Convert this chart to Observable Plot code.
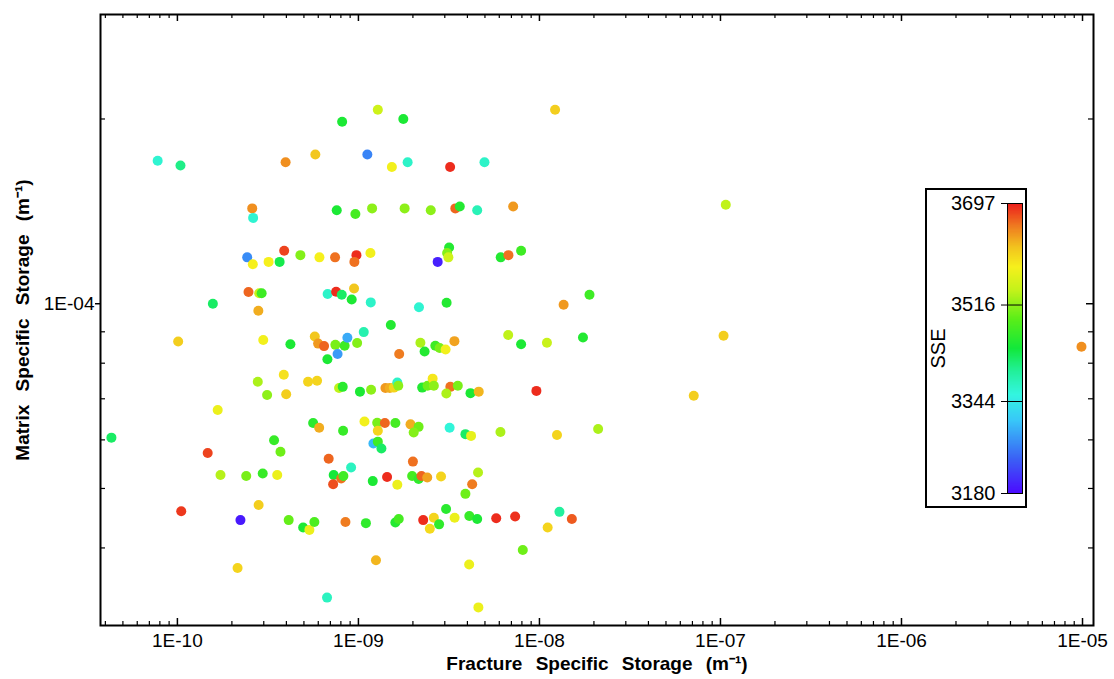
<!DOCTYPE html>
<html><head><meta charset="utf-8">
<script src="https://cdn.jsdelivr.net/npm/d3@7"></script>
<script src="https://cdn.jsdelivr.net/npm/@observablehq/plot@0.6"></script>
<style>
html,body{margin:0;padding:0;background:#fff;}
#wrap{position:relative;width:1114px;height:679px;}
#legend{position:absolute;left:925px;top:188px;width:102px;height:320px;}
svg{display:block;}
</style></head><body><div id="wrap"></div>
<script>
// Fracture specific storage (x), matrix specific storage (y), SSE (colour)
const fss = [
8.13e-10, 7.78e-11, 1.04e-10, 3.96e-10, 5.78e-10, 2.59e-10, 2.62e-10, 7.59e-10, 9.62e-10, 2.43e-10,
2.61e-10, 3.19e-10, 3.67e-10, 3.89e-10, 4.78e-10, 6.09e-10, 7.43e-10, 9.75e-10, 9.50e-10, 2.47e-10,
2.83e-10, 2.92e-10, 1.57e-10, 2.80e-10, 6.76e-10, 7.53e-10, 8.09e-10, 9.18e-10, 9.46e-10, 1.28e-9,
1.77e-9, 1.22e-8, 1.12e-9, 1.53e-9, 1.87e-9, 3.21e-9, 4.97e-9, 1.19e-9, 1.80e-9, 2.51e-9,
3.43e-9, 3.63e-9, 4.53e-9, 7.16e-9, 1.165e-9, 2.74e-9, 3.17e-9, 3.09e-9, 3.14e-9, 6.11e-9,
6.74e-9, 7.92e-9, 1.17e-9, 2.16e-9, 3.07e-9, 1.51e-9, 1.07e-9, 1.36e-8, 1.89e-8, 1.07e-7,
1.04e-7, 9.87e-6, 7.12e-8, 1.01e-10, 2.98e-10, 4.21e-10, 5.74e-10, 5.99e-10, 6.46e-10, 7.46e-10,
8.39e-10, 8.69e-10, 9.84e-10, 7.67e-10, 6.74e-10, 1.68e-9, 2.20e-9, 2.32e-9, 2.66e-9, 2.81e-9,
3.03e-9, 3.39e-9, 6.72e-9, 7.92e-9, 1.10e-8, 1.74e-8, 3.87e-10, 2.78e-10, 3.13e-10, 3.99e-10,
5.27e-10, 5.91e-10, 7.82e-10, 8.19e-10, 1.02e-9, 1.175e-9, 1.41e-9, 1.49e-9, 1.57e-9, 1.64e-9,
1.66e-9, 2.25e-9, 2.41e-9, 2.57e-9, 2.61e-9, 3.22e-9, 3.54e-9, 3.06e-9, 4.16e-9, 4.62e-9,
9.62e-9, 1.67e-10, 4.32e-11, 5.62e-10, 6.07e-10, 8.23e-10, 1.08e-9, 1.27e-9, 1.40e-9, 1.28e-9,
1.60e-9, 1.94e-9, 2.15e-9, 2.02e-9, 3.19e-9, 3.90e-9, 4.19e-9, 6.09e-9, 1.25e-8, 2.11e-8,
1.47e-10, 3.42e-10, 3.71e-10, 1.21e-9, 1.28e-9, 1.34e-9, 6.85e-10, 9.11e-10, 7.30e-10, 8.03e-10,
8.26e-10, 7.25e-10, 1.73e-10, 2.40e-10, 2.96e-10, 3.56e-10, 2.00e-9, 1.20e-9, 1.44e-9, 1.64e-9,
1.98e-9, 2.15e-9, 2.23e-9, 2.40e-9, 2.86e-9, 4.58e-9, 4.25e-9, 3.90e-9, 3.05e-9, 1.05e-10,
2.23e-10, 2.81e-10, 4.12e-10, 4.95e-10, 5.36e-10, 5.71e-10, 8.48e-10, 1.10e-9, 1.60e-9, 1.67e-9,
2.28e-9, 2.61e-9, 2.48e-9, 2.79e-9, 3.40e-9, 4.10e-9, 4.53e-9, 5.77e-9, 7.34e-9, 1.29e-8,
1.51e-8, 1.11e-8, 8.09e-9, 1.25e-9, 4.09e-9, 2.15e-10, 6.71e-10, 4.60e-9
];
const mss = [
1.98e-4, 1.71e-4, 1.68e-4, 1.70e-4, 1.75e-4, 1.43e-4, 1.38e-4, 1.42e-4, 1.40e-4, 1.19e-4,
1.16e-4, 1.17e-4, 1.17e-4, 1.22e-4, 1.20e-4, 1.19e-4, 1.19e-4, 1.20e-4, 1.17e-4, 1.045e-4,
1.04e-4, 1.04e-4, 1.00e-4, 9.74e-5, 1.037e-4, 1.046e-4, 1.034e-4, 1.016e-4, 1.059e-4, 2.07e-4,
2.00e-4, 2.07e-4, 1.75e-4, 1.67e-4, 1.70e-4, 1.67e-4, 1.70e-4, 1.43e-4, 1.43e-4, 1.42e-4,
1.43e-4, 1.44e-4, 1.42e-4, 1.44e-4, 1.21e-4, 1.17e-4, 1.235e-4, 1.21e-4, 1.19e-4, 1.19e-4,
1.20e-4, 1.22e-4, 1.005e-4, 9.87e-5, 1.004e-4, 9.23e-5, 8.99e-5, 9.96e-5, 1.034e-4, 1.45e-4,
8.87e-5, 8.51e-5, 7.08e-5, 8.68e-5, 8.73e-5, 8.59e-5, 8.84e-5, 8.61e-5, 8.53e-5, 8.57e-5,
8.54e-5, 8.80e-5, 8.63e-5, 8.28e-5, 8.12e-5, 8.28e-5, 8.64e-5, 8.36e-5, 8.54e-5, 8.47e-5,
8.42e-5, 8.69e-5, 8.89e-5, 8.59e-5, 8.64e-5, 8.81e-5, 7.66e-5, 7.46e-5, 7.10e-5, 7.12e-5,
7.46e-5, 7.49e-5, 7.29e-5, 7.32e-5, 7.19e-5, 7.24e-5, 7.29e-5, 7.29e-5, 7.30e-5, 7.44e-5,
7.35e-5, 7.30e-5, 7.35e-5, 7.55e-5, 7.35e-5, 7.32e-5, 7.35e-5, 7.14e-5, 7.15e-5, 7.19e-5,
7.21e-5, 6.71e-5, 6.05e-5, 6.39e-5, 6.28e-5, 6.21e-5, 6.43e-5, 6.40e-5, 6.39e-5, 6.21e-5,
6.39e-5, 6.36e-5, 6.30e-5, 6.17e-5, 6.28e-5, 6.13e-5, 6.09e-5, 6.18e-5, 6.11e-5, 6.25e-5,
5.71e-5, 5.99e-5, 5.74e-5, 5.92e-5, 5.96e-5, 5.81e-5, 5.59e-5, 5.41e-5, 5.26e-5, 5.19e-5,
5.24e-5, 5.08e-5, 5.26e-5, 5.24e-5, 5.29e-5, 5.26e-5, 5.53e-5, 5.14e-5, 5.22e-5, 5.07e-5,
5.24e-5, 5.18e-5, 5.24e-5, 5.21e-5, 5.23e-5, 5.31e-5, 5.08e-5, 4.90e-5, 4.63e-5, 4.59e-5,
4.44e-5, 4.70e-5, 4.44e-5, 4.32e-5, 4.28e-5, 4.41e-5, 4.41e-5, 4.39e-5, 4.40e-5, 4.46e-5,
4.44e-5, 4.48e-5, 4.30e-5, 4.37e-5, 4.48e-5, 4.51e-5, 4.46e-5, 4.47e-5, 4.50e-5, 4.58e-5,
4.46e-5, 4.32e-5, 3.97e-5, 3.82e-5, 3.76e-5, 3.71e-5, 3.32e-5, 3.20e-5
];
const sse = [
3445, 3365, 3405, 3645, 3615, 3645, 3365, 3445, 3475, 3270,
3583, 3583, 3430, 3680, 3510, 3583, 3660, 3690, 3660, 3665,
3545, 3470, 3420, 3630, 3370, 3690, 3420, 3445, 3615, 3550,
3445, 3610, 3265, 3580, 3370, 3690, 3370, 3515, 3515, 3515,
3665, 3450, 3380, 3640, 3580, 3195, 3450, 3510, 3550, 3450,
3660, 3470, 3370, 3365, 3450, 3450, 3385, 3640, 3470, 3540,
3610, 3645, 3610, 3610, 3580, 3445, 3615, 3640, 3665, 3505,
3470, 3290, 3510, 3280, 3445, 3655, 3530, 3450, 3470, 3505,
3580, 3635, 3540, 3445, 3545, 3450, 3595, 3530, 3515, 3610,
3605, 3605, 3540, 3455, 3445, 3515, 3640, 3630, 3605, 3370,
3515, 3450, 3500, 3590, 3515, 3660, 3505, 3530, 3445, 3625,
3690, 3575, 3420, 3455, 3630, 3465, 3580, 3505, 3665, 3605,
3475, 3630, 3500, 3510, 3360, 3420, 3570, 3530, 3605, 3530,
3680, 3465, 3500, 3300, 3470, 3420, 3665, 3375, 3440, 3660,
3470, 3675, 3535, 3505, 3465, 3575, 3660, 3445, 3690, 3575,
3475, 3460, 3665, 3635, 3605, 3535, 3655, 3500, 3455, 3685,
3190, 3610, 3495, 3445, 3575, 3480, 3655, 3460, 3450, 3475,
3690, 3605, 3600, 3460, 3575, 3465, 3445, 3690, 3688, 3395,
3670, 3605, 3500, 3625, 3575, 3605, 3375, 3575
];

const xMajorTicks = [1e-10, 1e-9, 1e-8, 1e-7, 1e-6, 1e-5];
const yMajorTicks = [1e-4];
const minorMantissas = [2, 3, 4, 5, 6, 7, 8, 9];
const xMinorDecades = [1e-11, 1e-10, 1e-9, 1e-8, 1e-7, 1e-6];
const yMinorDecades = [1e-5, 1e-4];
const sseTicks = [3180, 3344, 3516, 3697];
const xTitle = "Fracture Specific Storage (m⁻¹)";
const yTitle = "Matrix Specific Storage (m⁻¹)";
const legendTitle = "SSE";

const data = fss.map((x, i) => ({fss: x, mss: mss[i], sse: sse[i]}));

const xDomain = [3.76e-11, 1.15e-5];
const yDomain = [2.99e-5, 2.96e-4];
const inside = (v, [a, b]) => v > a * 1.01 && v < b * 0.99;
const xMinor = xMinorDecades.flatMap(d => minorMantissas.map(m => m * d)).filter(v => inside(v, xDomain));
const yMinor = yMinorDecades.flatMap(d => minorMantissas.map(m => m * d)).filter(v => inside(v, yDomain));
const fmt = d => { const e = Math.round(Math.log10(d)); return "1E" + (e < 0 ? "-" : "+") + String(Math.abs(e)).padStart(2, "0"); };

const colorScale = {
  type: "linear",
  domain: [3180, 3242, 3309, 3356, 3397, 3438, 3490, 3542, 3583, 3619, 3656, 3697],
  range: ["#4b0bff", "#3a62f5", "#38c6f8", "#33f5e0", "#22f09a", "#12e83a", "#5aee18", "#c4f21a", "#f6f01c", "#f2c21e", "#ef7a20", "#ec1c1c"],
  clamp: true
};

const font = '"Liberation Sans", Arial, Helvetica, sans-serif';
const W = 1114, H = 679, mL = 100, mR = 21, mT = 14, mB = 54;
const innerW = W - mL - mR, innerH = H - mT - mB;

const main = Plot.plot({
  width: W, height: H,
  marginLeft: mL, marginRight: mR, marginTop: mT, marginBottom: mB,
  style: {fontFamily: font, fontSize: "19px", color: "#000", background: "#fff", wordSpacing: "8px", overflow: "visible"},
  x: {type: "log", domain: xDomain},
  y: {type: "log", domain: yDomain},
  color: colorScale,
  marks: [
    Plot.dot(data, {x: "fss", y: "mss", fill: "sse", r: 5}),
    // bottom ticks (inward)
    Plot.tickX(xMajorTicks, {x: d => d, insetTop: innerH - 7, stroke: "#000", strokeWidth: 1.5}),
    Plot.tickX(xMinor, {x: d => d, insetTop: innerH - 4, stroke: "#000", strokeWidth: 1.2}),
    // top ticks (inward)
    Plot.tickX(xMajorTicks, {x: d => d, insetBottom: innerH - 7, stroke: "#000", strokeWidth: 1.5}),
    Plot.tickX(xMinor, {x: d => d, insetBottom: innerH - 4, stroke: "#000", strokeWidth: 1.2}),
    // left minor ticks (inward)
    Plot.tickY(yMinor, {y: d => d, insetRight: innerW - 5, stroke: "#000", strokeWidth: 1.2}),
    // right ticks (inward)
    Plot.tickY(yMajorTicks, {y: d => d, insetLeft: innerW - 7, stroke: "#000", strokeWidth: 1.5}),
    Plot.tickY(yMinor, {y: d => d, insetLeft: innerW - 5, stroke: "#000", strokeWidth: 1.2}),
    Plot.axisX({anchor: "bottom", ticks: xMajorTicks, tickSize: 0, tickPadding: 8, tickFormat: fmt, fontSize: 19, label: null}),
    Plot.axisY({anchor: "left", ticks: yMajorTicks, tickSize: 5, tickPadding: 1, tickFormat: fmt, fontSize: 19, label: null, strokeWidth: 1.5}),
    Plot.text([xTitle], {frameAnchor: "bottom", textAnchor: "middle", dy: 44, fontWeight: "bold", fontSize: 19}),
    Plot.text([yTitle], {frameAnchor: "left", textAnchor: "middle", rotate: -90, dx: -78, fontWeight: "bold", fontSize: 19}),
    Plot.frame({stroke: "#000", strokeWidth: 2})
  ]
});

const legendSteps = d3.range(3180, 3697, 1);
const legend = Plot.plot({
  width: 102, height: 320,
  marginLeft: 82, marginRight: 5, marginTop: 15, marginBottom: 15,
  style: {fontFamily: font, fontSize: "20px", color: "#000", background: "#fff", outline: "2px solid #000", outlineOffset: "-2px", overflow: "visible"},
  x: {domain: [0, 1], axis: null},
  y: {domain: [3180, 3697], axis: null},
  color: colorScale,
  marks: [
    Plot.rect(legendSteps, {x1: 0, x2: 1, y1: d => d, y2: d => d + 1.5, fill: d => d + 0.5, shapeRendering: "crispEdges"}),
    Plot.frame({stroke: "#000", strokeWidth: 1}),
    Plot.ruleY(sseTicks, {y: d => d, x1: -0.4, x2: 1, stroke: "#000", strokeWidth: 1}),
    Plot.axisY({anchor: "left", ticks: sseTicks, tickSize: 0, tickPadding: 12, fontSize: 20, label: null, tickFormat: d => String(d)}),
    Plot.text([legendTitle], {frameAnchor: "middle", textAnchor: "middle", rotate: -90, dx: -76, fontSize: 20})
  ]
});

const wrap = document.getElementById("wrap");
wrap.append(main);
const ld = document.createElement("div");
ld.id = "legend";
ld.append(legend);
wrap.append(ld);
</script>
</body></html>
